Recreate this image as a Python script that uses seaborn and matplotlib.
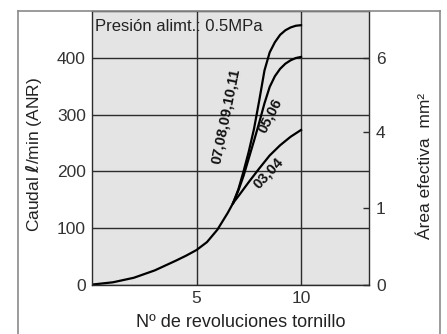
import pandas as pd
import matplotlib
matplotlib.use("Agg")
import matplotlib.pyplot as plt
from matplotlib.lines import Line2D
import seaborn as sns

# Curve readings (revolutions vs flow l/min)
common_x = [0, 1, 2, 3, 4, 4.5, 5, 5.5, 6, 6.25, 6.5, 6.75]
common_y = [0, 4, 12, 25, 42, 51, 61, 75, 97, 112, 127, 144]
top_x = [6.75, 7.0, 7.25, 7.5, 7.75, 8.0, 8.25, 8.5, 8.75, 9.0, 9.25, 9.5, 9.75, 10]
top_y = [144, 168, 200, 235, 275, 325, 378, 410, 428, 441, 449, 454, 457, 458]
mid_x = [6.75, 7.0, 7.25, 7.5, 7.75, 8.0, 8.25, 8.5, 8.75, 9.0, 9.25, 9.5, 9.75, 10]
mid_y = [144, 166, 192, 223, 254, 286, 320, 349, 368, 381, 390, 396, 400, 402]
low_x = [6.75, 7.0, 7.5, 8.0, 8.5, 9.0, 9.5, 10]
low_y = [144, 156, 181, 205, 228, 246, 261, 273]

series_labels = ["07,08,09,10,11", "05,06", "03,04"]
label_pos_x = [6.40, 8.52, 8.44]
label_pos_y = [297, 299, 197]
label_rot = [78.5, 63, 47]

# Right axis (effective area) ticks, placed on the flow scale
area_labels = ["0", "1", "4", "6"]
area_pos = [0, 135, 270, 400]

plt.rcParams['font.family'] = ['Liberation Sans', 'DejaVu Sans']
ink = "#2b2b2b"

fig = plt.figure(figsize=(4.47, 3.34), dpi=100)
ax = fig.add_axes([0.2058, 0.148, 0.6197, 0.819])
ax.set_facecolor("#e4e4e4")

frames = []
for name, xs, ys in [("common", common_x, common_y), ("top", top_x, top_y),
                     ("mid", mid_x, mid_y), ("low", low_x, low_y)]:
    frames.append(pd.DataFrame({"rev": xs, "flow": ys, "curve": name}))
df = pd.concat(frames, ignore_index=True)

for name, grp in df.groupby("curve", sort=False):
    sns.lineplot(data=grp, x="rev", y="flow", ax=ax, color="black",
                 linewidth=1.6, estimator=None, sort=False)

ax.set_xlim(0, 13.25)
ax.set_ylim(0, 483)
ax.set_xticks([5, 10])
ax.set_yticks([0, 100, 200, 300, 400])
ax.grid(True, color=ink, linewidth=1.0)
ax.set_axisbelow(True)
ax.tick_params(axis="both", length=0, pad=4.5, labelsize=12.5, colors="#333333")
for s in ax.spines.values():
    s.set_color(ink)
    s.set_linewidth(1.0)

ax.set_xlabel("Nº de revoluciones tornillo", fontsize=13, color="#222222")
ax.xaxis.set_label_coords(0.538, -0.108)
ax.set_ylabel(r"Caudal $\boldsymbol{\ell}$/min (ANR)", fontsize=12.5, color="#222222")
ax.yaxis.set_label_coords(-0.175, 0.474)

ax.text(0.011, 0.943, "Presión alimt.: 0.5MPa", transform=ax.transAxes,
        fontsize=12, va="center", ha="left", color="#222222")

for lab, lx, ly, rot in zip(series_labels, label_pos_x, label_pos_y, label_rot):
    ax.text(lx, ly, lab, rotation=rot, rotation_mode="anchor", fontsize=10.5,
            fontweight="bold", ha="center", va="center", color="#111111")

ax2 = ax.twinx()
ax2.set_ylim(ax.get_ylim())
ax2.set_yticks(area_pos)
ax2.set_yticklabels(area_labels)
ax2.tick_params(axis="y", direction="in", length=4.5, width=1.0, color=ink,
                pad=5, labelsize=12.5, labelcolor="#333333")
for s in ax2.spines.values():
    s.set_visible(False)
ax2.set_ylabel("Área efectiva  mm²", fontsize=12.5, color="#222222")
ax2.yaxis.set_label_coords(1.177, 0.434)

# outer frame around the figure
fc = "#8a8a8a"
fig.add_artist(Line2D([0.040, 0.040], [-0.05, 0.967], color=fc, linewidth=1.2))
fig.add_artist(Line2D([0.984, 0.984], [-0.05, 0.967], color=fc, linewidth=1.2))
fig.add_artist(Line2D([0.040, 0.984], [0.967, 0.967], color=fc, linewidth=1.2))

fig.savefig("out.png", dpi=100)
